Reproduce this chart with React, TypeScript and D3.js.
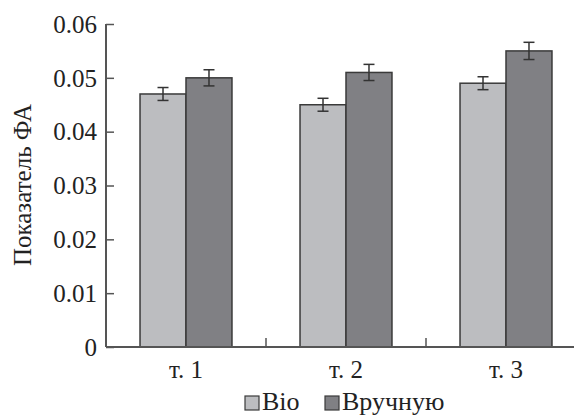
import React, { useEffect, useRef } from 'react';
import * as d3 from 'd3';

// data
const categories = ['т. 1', 'т. 2', 'т. 3'];
const seriesNames = ['Bio', 'Вручную'];
const bioValues = [0.047, 0.045, 0.049];
const bioErrors = [0.0012, 0.0012, 0.0012];
const manualValues = [0.05, 0.051, 0.055];
const manualErrors = [0.0015, 0.0015, 0.0016];
const yTicks = [0, 0.01, 0.02, 0.03, 0.04, 0.05, 0.06];
const seriesColors = ['#bcbdc0', '#808084'];

const W = 577;
const H = 417;
const FONT = '"Liberation Serif", "Times New Roman", serif';

export default function App() {
  const ref = useRef<SVGSVGElement>(null);

  useEffect(() => {
    const svg = d3.select(ref.current);
    svg.selectAll('*').remove();

    const left = 106, top = 24, bottom = 347;

    const y = d3.scaleLinear().domain([0, 0.06]).range([bottom, top]);
    const x0 = d3.scaleBand().domain(categories).range([left, left + 480]);
    const x1 = d3.scaleBand().domain(seriesNames).range([0, x0.bandwidth()]).paddingInner(0).paddingOuter(0.74);

    const rows = categories.map((c, i) => ({
      cat: c,
      items: [
        { s: seriesNames[0], v: bioValues[i], e: bioErrors[i] },
        { s: seriesNames[1], v: manualValues[i], e: manualErrors[i] },
      ],
    }));

    // bars
    const g = svg.append('g');
    const groups = g.selectAll('g.grp').data(rows).enter().append('g')
      .attr('transform', d => `translate(${x0(d.cat)},0)`);

    groups.selectAll('rect').data(d => d.items).enter().append('rect')
      .attr('x', d => x1(d.s)!)
      .attr('y', d => y(d.v))
      .attr('width', x1.bandwidth())
      .attr('height', d => bottom - y(d.v))
      .attr('fill', (d, i) => seriesColors[i])
      .attr('stroke', '#3a3a3a')
      .attr('stroke-width', 1.5);

    // error bars
    const eb = groups.selectAll('g.err').data(d => d.items).enter().append('g')
      .attr('stroke', '#333')
      .attr('stroke-width', 1.5);
    const cx = (d: any) => x1(d.s)! + x1.bandwidth() / 2;
    eb.append('line')
      .attr('x1', cx).attr('x2', cx)
      .attr('y1', d => y(d.v + d.e)).attr('y2', d => y(d.v - d.e));
    eb.append('line')
      .attr('x1', d => cx(d) - 5.5).attr('x2', d => cx(d) + 5.5)
      .attr('y1', d => y(d.v + d.e)).attr('y2', d => y(d.v + d.e));
    eb.append('line')
      .attr('x1', d => cx(d) - 5.5).attr('x2', d => cx(d) + 5.5)
      .attr('y1', d => y(d.v - d.e)).attr('y2', d => y(d.v - d.e));

    // y axis
    const yAxis = d3.axisRight(y).tickValues(yTicks).tickSize(8).tickFormat(() => '');
    const ya = svg.append('g').attr('transform', `translate(${left},0)`).call(yAxis);
    ya.select('.domain').remove();
    ya.selectAll('line').attr('stroke', '#555').attr('stroke-width', 1.5);
    svg.append('line')
      .attr('x1', left).attr('x2', left).attr('y1', top).attr('y2', bottom)
      .attr('stroke', '#555').attr('stroke-width', 2);

    svg.append('g').selectAll('text').data(yTicks).enter().append('text')
      .attr('x', 97)
      .attr('y', d => y(d))
      .attr('dy', '0.35em')
      .attr('text-anchor', 'end')
      .attr('font-family', FONT)
      .attr('font-size', 25)
      .attr('fill', '#222')
      .text(d => (d === 0 ? '0' : d3.format('.2f')(d)));

    // x axis
    svg.append('line')
      .attr('x1', left).attr('x2', 574).attr('y1', bottom).attr('y2', bottom)
      .attr('stroke', '#555').attr('stroke-width', 2);
    svg.append('g').selectAll('line').data(categories.slice(1)).enter().append('line')
      .attr('x1', d => x0(d)!).attr('x2', d => x0(d)!)
      .attr('y1', bottom).attr('y2', bottom - 9)
      .attr('stroke', '#555').attr('stroke-width', 1.5);
    svg.append('g').selectAll('text').data(categories).enter().append('text')
      .attr('x', d => x0(d)! + x0.bandwidth() / 2)
      .attr('y', 378)
      .attr('text-anchor', 'middle')
      .attr('font-family', FONT)
      .attr('font-size', 25)
      .attr('fill', '#222')
      .text(d => d);

    // y label
    svg.append('text')
      .attr('transform', `translate(31,185) rotate(-90)`)
      .attr('text-anchor', 'middle')
      .attr('font-family', FONT)
      .attr('font-size', 25)
      .attr('fill', '#222')
      .text('Показатель ФА');

    // legend
    const legendX = [245, 325];
    const lg = svg.append('g').selectAll('g').data(seriesNames).enter().append('g')
      .attr('transform', (d, i) => `translate(${legendX[i]},396)`);
    lg.append('rect')
      .attr('width', 14).attr('height', 14)
      .attr('fill', (d, i) => seriesColors[i])
      .attr('stroke', '#3a3a3a').attr('stroke-width', 1.2);
    lg.append('text')
      .attr('x', 17).attr('y', 14)
      .attr('font-family', FONT)
      .attr('font-size', 26)
      .attr('fill', '#222')
      .text(d => d);
  }, []);

  return (
    <svg ref={ref} width={W} height={H}
      style={{ position: 'absolute', left: 0, top: 0, background: '#fff' }} />
  );
}
